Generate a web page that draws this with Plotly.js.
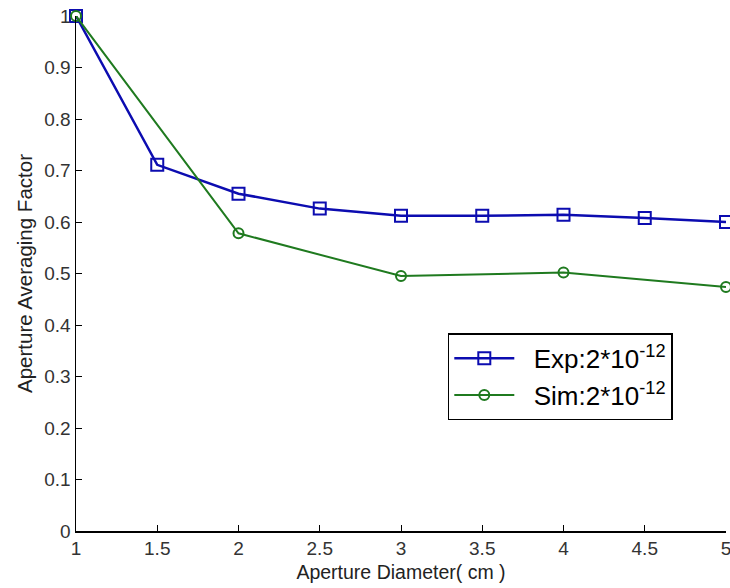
<!DOCTYPE html>
<html>
<head>
<meta charset="utf-8">
<script src="https://cdn.plot.ly/plotly-3.0.1.min.js"></script>
<style>html,body{margin:0;padding:0;background:#fff;}#chart{width:730px;height:588px;}</style>
</head>
<body>
<div id="chart"></div>
<script>
const expX = [1, 1.5, 2, 2.5, 3, 3.5, 4, 4.5, 5];
const expY = [1.0, 0.711, 0.655, 0.626, 0.612, 0.612, 0.614, 0.608, 0.600];
const simX = [1, 2, 3, 4, 5];
const simY = [1.0, 0.578, 0.495, 0.502, 0.474];
const xTicks = [1, 1.5, 2, 2.5, 3, 3.5, 4, 4.5, 5];
const xTickText = ['1', '1.5', '2', '2.5', '3', '3.5', '4', '4.5', '5'];
const yTicks = [0, 0.1, 0.2, 0.3, 0.4, 0.5, 0.6, 0.7, 0.8, 0.9, 1];
const yTickText = ['0', '0.1', '0.2', '0.3', '0.4', '0.5', '0.6', '0.7', '0.8', '0.9', '1'];
const expName = '\u00a0\u00a0Exp:2*10<sup>-12</sup>';
const simName = '\u00a0\u00a0Sim:2*10<sup>-12</sup>';

const font = 'Liberation Sans, Arial, sans-serif';
const traces = [
  {x: expX, y: expY, name: expName, legendgroup: 'a', type: 'scatter', mode: 'lines+markers', cliponaxis: false,
   line: {color: '#0c0cb0', width: 2.5},
   marker: {symbol: 'square-open', size: 12, color: '#0c0cb0', line: {width: 2}}},
  {x: simX, y: simY, name: simName, legendgroup: 'b', type: 'scatter', mode: 'lines+markers', cliponaxis: false,
   line: {color: '#1f7a1f', width: 2},
   marker: {symbol: 'circle-open', size: 10, color: '#1f7a1f', line: {width: 2}}}
];
const layout = {
  width: 730, height: 588,
  margin: {l: 76, r: 4, t: 16, b: 57},
  paper_bgcolor: '#fff', plot_bgcolor: '#fff',
  font: {family: font, color: '#333', size: 19},
  showlegend: true,
  xaxis: {range: [1, 5], tickvals: xTicks, ticktext: xTickText, showgrid: false, zeroline: false,
    showline: true, linecolor: '#000', linewidth: 1.5, ticks: 'inside', ticklen: 6, tickcolor: '#000',
    ticklabeloverflow: 'allow',
    tickfont: {size: 19, color: '#333'},
    title: {text: 'Aperture Diameter( cm )', font: {size: 19.5, color: '#222'}, standoff: 7}},
  yaxis: {range: [0, 1], tickvals: yTicks, ticktext: yTickText, showgrid: false, zeroline: false,
    showline: true, linecolor: '#000', linewidth: 1.5, ticks: 'inside', ticklen: 6, tickcolor: '#000',
    ticklabeloverflow: 'allow',
    tickfont: {size: 19, color: '#333'},
    title: {text: 'Aperture Averaging Factor', font: {size: 20.5, color: '#222'}, standoff: 6}},
  legend: {x: 0.572, y: 0.384, xanchor: 'left', yanchor: 'top', bgcolor: '#fff',
    bordercolor: '#000', borderwidth: 1.5, font: {size: 26, color: '#000'}, itemwidth: 60,
    tracegroupgap: 0}
};
Plotly.newPlot('chart', traces, layout, {displayModeBar: false, staticPlot: true});
</script>
</body>
</html>
